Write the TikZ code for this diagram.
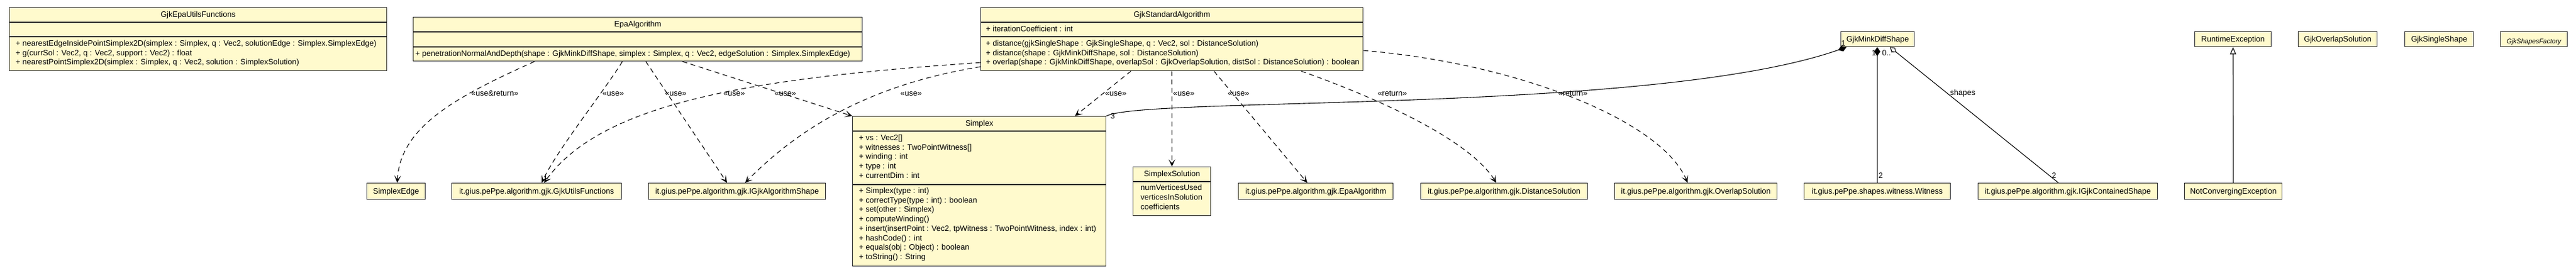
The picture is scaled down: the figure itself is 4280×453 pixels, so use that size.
\documentclass[tikz,border=0pt]{standalone}
\usepackage{fontspec}
\setmainfont{Liberation Sans}
\usetikzlibrary{arrows.meta}
\definecolor{umlfill}{RGB}{255,250,205}
\definecolor{umlline}{RGB}{40,40,40}

\begin{document}
\begin{tikzpicture}[x=1pt, y=-1pt,
  every node/.style={font=\fontsize{13pt}{15.7pt}\selectfont, inner sep=0pt, text height=10pt, text depth=2pt},
  cls/.style={draw=umlline, fill=umlfill, line width=1.3pt, anchor=north west},
  small/.style={cls, minimum height=25pt},
  pkg/.style={cls, minimum height=27pt},
  member/.style={anchor=west},
  sepline/.style={draw=umlline, line width=1.3pt},
  usedep/.style={line width=1.1pt, dash pattern=on 8pt off 6pt, -{Stealth[length=12pt, width=11pt, inset=6pt]}},
  compo/.style={line width=1.1pt, -{Diamond[length=15pt, width=10pt]}},
  aggr/.style={line width=1.1pt, -{Diamond[open, fill=white, length=14pt, width=9pt]}},
  inherit/.style={line width=1.1pt, -{Triangle[open, fill=white, length=12pt, width=10pt]}}]

\fill[white] (0,0) rectangle (4280,453);
\useasboundingbox (0,0) rectangle (4280,453);

% 类框
\node[cls, minimum width=627, minimum height=105] (utilfn) at (15,12) {};
\node[cls, minimum width=746, minimum height=73] (epa) at (686,28) {};
\node[cls, minimum width=635, minimum height=105] (gjk) at (1629,12) {};
\node[cls, minimum width=421, minimum height=249] (simplex) at (1416,193) {};
\node[cls, minimum width=129, minimum height=81] (simsol) at (1882,277) {};

% 分隔线
\foreach \n/\d in {utilfn/25, utilfn/49, epa/25, epa/50, gjk/25, gjk/49, simplex/25, simplex/114, simsol/25}
  \draw[sepline] ([yshift=-\d]\n.north west) -- ([yshift=-\d]\n.north east);

% 类名
\node[yshift=-12.5] at (utilfn.north) {GjkEpaUtilsFunctions};
\node[yshift=-12.5] at (epa.north) {EpaAlgorithm};
\node[yshift=-12.5] at (gjk.north) {GjkStandardAlgorithm};
\node[yshift=-12.5] at (simplex.north) {Simplex};
\node[yshift=-12.5] at (simsol.north) {SimplexSolution};

% 成员
\foreach \y/\txt in {72/{+ nearestEdgeInsidePointSimplex2D(simplex : Simplex, q : Vec2, solutionEdge : Simplex.SimplexEdge)},
    88/{+ g(currSol : Vec2, q : Vec2, support : Vec2) : float},
    103/{+ nearestPointSimplex2D(simplex : Simplex, q : Vec2, solution : SimplexSolution)}}
  \node[member] at (26,\y) {\txt};
\node[member] at (690,89) {+ penetrationNormalAndDepth(shape : GjkMinkDiffShape, simplex : Simplex, q : Vec2, edgeSolution : Simplex.SimplexEdge)};
\foreach \y/\txt in {48/{+ iterationCoefficient : int},
    72/{+ distance(gjkSingleShape : GjkSingleShape, q : Vec2, sol : DistanceSolution)},
    88/{+ distance(shape : GjkMinkDiffShape, sol : DistanceSolution)},
    103/{+ overlap(shape : GjkMinkDiffShape, overlapSol : GjkOverlapSolution, distSol : DistanceSolution) : boolean}}
  \node[member] at (1638,\y) {\txt};
\foreach \y/\txt in {229/{+ vs : Vec2[]}, 245/{+ witnesses : TwoPointWitness[]}, 260/{+ winding : int},
    276/{+ type : int}, 292/{+ currentDim : int},
    317/{+ Simplex(type : int)}, 333/{+ correctType(type : int) : boolean}, 348/{+ set(other : Simplex)},
    364/{+ computeWinding()}, 380/{+ insert(insertPoint : Vec2, tpWitness : TwoPointWitness, index : int)},
    396/{+ hashCode() : int}, 411/{+ equals(obj : Object) : boolean}, 427/{+ toString() : String}}
  \node[member] at (1427,\y) {\txt};
\foreach \y/\txt in {312/numVerticesUsed, 328/verticesInSolution, 344/coefficients}
  \node[member] at (1895,\y) {\txt};

% 小类框
\foreach \n/\x/\w/\t in {mink/3058/122/GjkMinkDiffShape, rtex/3646/127/RuntimeException,
    ovsol/3818/131/GjkOverlapSolution, single/3995/114/GjkSingleShape}
  \node[small, minimum width=\w] (\n) at (\x,52) {\t};
\node[small, minimum width=111, font=\fontsize{11pt}{13pt}\selectfont\itshape, text height=16pt, text depth=1pt] (factory) at (4154,52) {GjkShapesFactory};

\foreach \n/\x/\w/\t in {edge/609/97/SimplexEdge,
    utilq/750/282/it.gius.pePpe.algorithm.gjk.GjkUtilsFunctions,
    shapeq/1077/294/it.gius.pePpe.algorithm.gjk.IGjkAlgorithmShape,
    epaq/2057/257/it.gius.pePpe.algorithm.gjk.EpaAlgorithm,
    distq/2360/277/it.gius.pePpe.algorithm.gjk.DistanceSolution,
    ovq/2682/270/it.gius.pePpe.algorithm.gjk.OverlapSolution,
    witq/2997/243/it.gius.pePpe.shapes.witness.Witness,
    contq/3286/298/it.gius.pePpe.algorithm.gjk.IGjkContainedShape,
    notconv/3629/162/NotConvergingException}
  \node[pkg, minimum width=\w] (\n) at (\x,304) {\t};

% 多重性
\node[member] at (1845,193) {3};
\node[member] at (3059,72) {1};
\node[member] at (3110,88) {1};
\node[member] at (3127,88) {0..*};
\node[member] at (3121,292) {2};
\node[member] at (3409,292) {2};

% 依赖
\draw[usedep] ([xshift=202]epa.south west) .. controls (760,160) and (665,210) .. ([xshift=51]edge.north west);
\draw[usedep] ([xshift=348]epa.south west) .. controls (1005,150) and (925,250) .. ([xshift=150]utilq.north west);
\draw[usedep] ([yshift=-92]gjk.north west) .. controls (1250,130) and (1000,170) .. ([xshift=154]utilq.north west);
\draw[usedep] ([xshift=387]epa.south west) -- ([xshift=131]shapeq.north west);
\draw[usedep] ([yshift=-99]gjk.north west) .. controls (1450,140) and (1330,210) .. ([xshift=161]shapeq.north west);
\draw[usedep] ([xshift=448]epa.south west) -- (simplex.north west);
\draw[usedep] ([xshift=250]gjk.south west) -- ([xshift=370]simplex.north west);
\draw[usedep] ([xshift=318]gjk.south west) -- (simsol.north);
\draw[usedep] ([xshift=388]gjk.south west) -- ([xshift=115]epaq.north west);
\draw[usedep] ([xshift=533]gjk.south west) .. controls (2280,160) and (2440,230) .. ([xshift=126]distq.north west);
\draw[usedep] ([yshift=-72]gjk.north east) .. controls (2520,105) and (2760,200) .. ([xshift=122]ovq.north west);

% 组合、聚合、继承
\draw[compo] (simplex.north east) .. controls (1900,160) and (2750,190) .. ([xshift=10]mink.south west);
\draw[compo] (witq.north) -- ([xshift=61]mink.south west);
\draw[aggr] ([xshift=134]contq.north west) -- ([xshift=82]mink.south west);
\draw[inherit] (notconv.north) -- (rtex.south);

% 标签
\foreach \x/\y/\t in {783/155/«use\&return», 1001/155/«use», 1105/155/«use», 1202/155/«use»,
    1287/155/«use», 1496/155/«use», 1836/155/«use», 1949/155/«use», 2040/155/«use»,
    2289/155/«return», 2589/155/«return», 3240/154/shapes}
  \node[member] at (\x,\y) {\t};
\end{tikzpicture}
\end{document}
